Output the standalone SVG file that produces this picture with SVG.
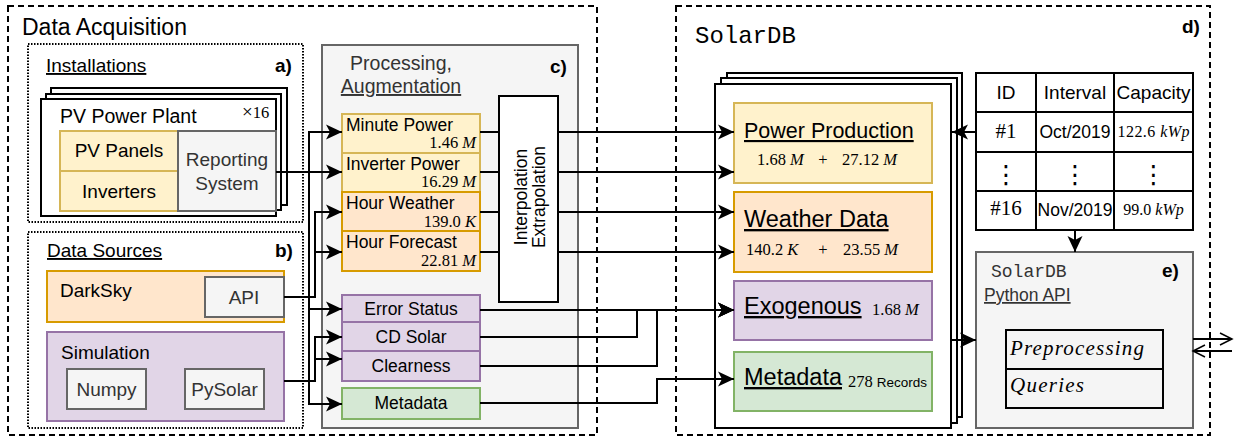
<svg xmlns="http://www.w3.org/2000/svg" width="1241" height="439" viewBox="0 0 1241 439">
<defs>
  <style>
    .sans{font-family:"Liberation Sans",Arial,sans-serif}
    .serif{font-family:"Liberation Serif","Times New Roman",serif}
    .mono{font-family:"Liberation Mono","Courier New",monospace}
    .dash{fill:none;stroke:#000;stroke-width:2;stroke-dasharray:6 4}
    .dot{fill:none;stroke:#000;stroke-width:2;stroke-dasharray:1.5 1.5}
    .yel{fill:#fff2cc;stroke:#d6b656;stroke-width:2}
    .org{fill:#ffe6cc;stroke:#d79b00;stroke-width:2}
    .pur{fill:#e1d5e7;stroke:#9673a6;stroke-width:2}
    .grn{fill:#d5e8d4;stroke:#82b366;stroke-width:2}
    .gry{fill:#f5f5f5;stroke:#666;stroke-width:2}
    .blk{fill:#fff;stroke:#000;stroke-width:2}
    .wire{fill:none;stroke:#000;stroke-width:2}
    .arrow{marker-end:url(#arr)}
    .u{text-decoration:underline}
    .dim{fill:#333}
    .b{font-weight:bold}
    .i{font-style:italic}
    .vdots{font-family:"DejaVu Sans",sans-serif;font-size:25px}
  </style>
  <marker id="arr" markerUnits="userSpaceOnUse" markerWidth="17" markerHeight="15" refX="16" refY="7.5" orient="auto" overflow="visible">
    <path d="M0,0 L16,7.5 L0,15 L4,7.5 Z" fill="#000"/>
  </marker>
  <marker id="open" markerUnits="userSpaceOnUse" markerWidth="13" markerHeight="13" refX="12" refY="6" orient="auto" overflow="visible">
    <path d="M0,0 L12,6 L0,12" fill="none" stroke="#000" stroke-width="1.5"/>
  </marker>
</defs>

<rect width="1241" height="439" fill="#fff"/>

<!-- Data acquisition frame -->
<g id="data-acquisition">
  <rect class="dash" x="8" y="6" width="589" height="429"/>
  <text class="sans" x="22" y="35" font-size="23">Data Acquisition</text>
</g>

<!-- a) installations -->
<g id="installations">
  <rect class="dot" x="28" y="44" width="275" height="178"/>
  <text class="sans u" x="46" y="72" font-size="19">Installations</text>
  <text class="sans b" x="275" y="72" font-size="19">a)</text>
</g>

<g id="pv-power-plant">
  <rect class="blk" x="51" y="88" width="236" height="117"/>
  <rect class="blk" x="46" y="94" width="235" height="116"/>
  <rect class="blk" x="41" y="99" width="235" height="117"/>
  <text class="sans" x="60" y="123" font-size="19.5">PV Power Plant</text>
  <text class="serif" x="242" y="118" font-size="16.5"><tspan font-size="19">×</tspan>16</text>
  <rect class="yel" x="60" y="131" width="118" height="40"/>
  <text class="sans" x="119" y="157" font-size="19" text-anchor="middle">PV Panels</text>
  <rect class="yel" x="60" y="171" width="118" height="40"/>
  <text class="sans" x="119" y="198" font-size="19" text-anchor="middle">Inverters</text>
  <rect class="gry" x="178" y="131" width="98" height="80"/>
  <text class="sans dim" x="227" y="166" font-size="19" text-anchor="middle">Reporting</text>
  <text class="sans dim" x="227" y="190" font-size="19" text-anchor="middle">System</text>
</g>

<!-- b) data sources -->
<g id="data-sources">
  <rect class="dot" x="28" y="232" width="275" height="196"/>
  <text class="sans u" x="47" y="257" font-size="19">Data Sources</text>
  <text class="sans b" x="275" y="257" font-size="19">b)</text>
</g>

<g id="darksky">
  <rect class="org" x="47" y="271" width="237" height="51"/>
  <text class="sans" x="60" y="297" font-size="19">DarkSky</text>
  <rect class="gry" x="205" y="277" width="79" height="40"/>
  <text class="sans dim" x="244" y="304" font-size="19" text-anchor="middle">API</text>
</g>

<g id="simulation">
  <rect class="pur" x="47" y="332" width="237" height="89"/>
  <text class="sans" x="61" y="359" font-size="19">Simulation</text>
  <rect class="gry" x="67" y="369" width="79" height="40"/>
  <text class="sans dim" x="106.5" y="396" font-size="19" text-anchor="middle">Numpy</text>
  <rect class="gry" x="185" y="369" width="79" height="40"/>
  <text class="sans dim" x="224.5" y="396" font-size="19" text-anchor="middle">PySolar</text>
</g>

<!-- c) processing -->
<g id="processing">
  <rect class="gry" x="322" y="45" width="256" height="383"/>
  <text class="sans dim" x="401" y="70" font-size="19.5" text-anchor="middle">Processing,</text>
  <text class="sans dim u" x="401" y="93" font-size="19.5" text-anchor="middle">Augmentation</text>
  <text class="sans b" x="550" y="73" font-size="19">c)</text>
</g>

<g id="minute-power">
  <rect class="yel" x="342" y="114" width="138" height="39"/>
  <text class="sans" x="346" y="131" font-size="17.5">Minute Power</text>
  <text class="serif" x="476" y="148" font-size="16.5" text-anchor="end">1.46 <tspan class="i">M</tspan></text>
</g>
<g id="inverter-power">
  <rect class="yel" x="342" y="153" width="138" height="39"/>
  <text class="sans" x="346" y="170" font-size="17.5">Inverter Power</text>
  <text class="serif" x="476" y="187" font-size="16.5" text-anchor="end">16.29 <tspan class="i">M</tspan></text>
</g>
<g id="hour-weather">
  <rect class="org" x="342" y="192" width="138" height="39"/>
  <text class="sans" x="346" y="209" font-size="17.5">Hour Weather</text>
  <text class="serif" x="476" y="227" font-size="16.5" text-anchor="end">139.0 <tspan class="i">K</tspan></text>
</g>
<g id="hour-forecast">
  <rect class="org" x="342" y="231" width="138" height="40"/>
  <text class="sans" x="346" y="248" font-size="17.5">Hour Forecast</text>
  <text class="serif" x="476" y="266" font-size="16.5" text-anchor="end">22.81 <tspan class="i">M</tspan></text>
</g>

<g id="interpolation">
  <rect class="blk" x="499" y="96" width="59" height="206"/>
  <g transform="translate(527,197) rotate(-90)">
    <text class="sans" x="0" y="0" font-size="17.5" text-anchor="middle">Interpolation</text>
    <text class="sans" x="0" y="18" font-size="17.5" text-anchor="middle">Extrapolation</text>
  </g>
</g>

<g id="error-status">
  <rect class="pur" x="342" y="295" width="138" height="27"/>
  <text class="sans" x="411" y="315" font-size="17.5" text-anchor="middle">Error Status</text>
</g>
<g id="cd-solar">
  <rect class="pur" x="342" y="322" width="138" height="29"/>
  <text class="sans" x="411" y="343" font-size="17.5" text-anchor="middle">CD Solar</text>
</g>
<g id="clearness">
  <rect class="pur" x="342" y="351" width="138" height="30"/>
  <text class="sans" x="411" y="372" font-size="17.5" text-anchor="middle">Clearness</text>
</g>
<g id="metadata-source">
  <rect class="grn" x="342" y="388" width="138" height="31"/>
  <text class="sans" x="411" y="409" font-size="17.5" text-anchor="middle">Metadata</text>
</g>

<!-- d) SolarDB -->
<g id="solardb">
  <rect class="dash" x="676" y="6" width="534" height="429"/>
  <text class="mono" x="695" y="43" font-size="24">SolarDB</text>
  <text class="sans b" x="1182" y="33" font-size="19">d)</text>
</g>

<g id="datasets">
  <rect class="blk" x="727" y="73" width="235" height="344"/>
  <rect class="blk" x="721" y="78" width="236" height="345"/>
  <rect class="blk" x="715" y="84" width="236" height="344"/>
</g>

<g id="power-production">
  <rect class="yel" x="734" y="103" width="198" height="80"/>
  <text class="sans u" x="744" y="138" font-size="21.5">Power Production</text>
  <text class="serif" x="757" y="165" font-size="16.5">1.68 <tspan class="i">M</tspan></text>
  <text class="serif" x="823" y="165" font-size="16.5" text-anchor="middle">+</text>
  <text class="serif" x="842" y="165" font-size="16.5">27.12 <tspan class="i">M</tspan></text>
</g>
<g id="weather-data">
  <rect class="org" x="734" y="192" width="198" height="80"/>
  <text class="sans u" x="744" y="227" font-size="23.5">Weather Data</text>
  <text class="serif" x="746" y="255" font-size="16.5">140.2 <tspan class="i">K</tspan></text>
  <text class="serif" x="823" y="255" font-size="16.5" text-anchor="middle">+</text>
  <text class="serif" x="843" y="255" font-size="16.5">23.55 <tspan class="i">M</tspan></text>
</g>
<g id="exogenous">
  <rect class="pur" x="734" y="281" width="198" height="59"/>
  <text class="sans u" x="744" y="314" font-size="23.5">Exogenous</text>
  <text class="serif" x="872" y="315" font-size="16.5">1.68 <tspan class="i">M</tspan></text>
</g>
<g id="metadata">
  <rect class="grn" x="734" y="352" width="198" height="59"/>
  <text class="sans u" x="744" y="385" font-size="23.5">Metadata</text>
  <text x="848" y="387"><tspan class="serif" font-size="16.5">278</tspan><tspan class="sans" font-size="13.5" dx="4">Records</tspan></text>
</g>

<g id="installations-table">
  <rect class="blk" x="976" y="73" width="217" height="157"/>
  <path class="wire" d="M1036,73 V230 M1114,73 V230 M976,112 H1193 M976,152 H1193 M976,191 H1193"/>
  <text class="sans" x="1006" y="99" font-size="19" text-anchor="middle">ID</text>
  <text class="sans" x="1075" y="99" font-size="19" text-anchor="middle">Interval</text>
  <text class="sans" x="1153.5" y="99" font-size="19" text-anchor="middle">Capacity</text>
  <text class="serif" x="1006" y="138" font-size="21" text-anchor="middle">#1</text>
  <text class="sans" x="1075" y="138" font-size="17.5" text-anchor="middle">Oct/2019</text>
  <text class="serif" x="1153.5" y="137" font-size="16" text-anchor="middle" textLength="72" lengthAdjust="spacing">122.6 <tspan class="i">kWp</tspan></text>
  <text class="vdots" x="1006" y="183" text-anchor="middle">⋮</text>
  <text class="vdots" x="1075" y="183" text-anchor="middle">⋮</text>
  <text class="vdots" x="1153.5" y="183" text-anchor="middle">⋮</text>
  <text class="serif" x="1006" y="215" font-size="21" text-anchor="middle">#16</text>
  <text class="sans" x="1075" y="216" font-size="17.5" text-anchor="middle">Nov/2019</text>
  <text class="serif" x="1153.5" y="215" font-size="16" text-anchor="middle">99.0 <tspan class="i">kWp</tspan></text>
</g>

<!-- e) python API -->
<g id="python-api">
  <rect class="gry" x="976" y="252" width="217" height="176"/>
  <text class="mono dim" x="991" y="277" font-size="18">SolarDB</text>
  <text class="sans dim u" x="984" y="301" font-size="17.5">Python API</text>
  <text class="sans b" x="1162" y="277" font-size="19">e)</text>
  <rect class="blk" x="1006" y="330" width="157" height="78" style="fill:#f5f5f5"/>
  <path class="wire" d="M1006,369 H1163"/>
  <text class="serif i" x="1010" y="355" font-size="21" textLength="134" lengthAdjust="spacing">Preprocessing</text>
  <text class="serif i" x="1010" y="392" font-size="21" textLength="74" lengthAdjust="spacing">Queries</text>
</g>

<!-- connectors -->
<g id="connectors" class="wire">
  <path class="arrow" d="M276,172 H309 V132 H342"/>
  <path class="arrow" d="M276,172 H342"/>
  <path class="arrow" d="M276,172 H309 V309 H342"/>
  <path class="arrow" d="M276,172 H309 V404 H342"/>
  <path class="arrow" d="M284,297 H315 V212 H342"/>
  <path class="arrow" d="M284,297 H315 V252 H342"/>
  <path class="arrow" d="M284,381 H315 V337 H342"/>
  <path class="arrow" d="M284,381 H315 V359 H342"/>

  <path d="M480,132 H499 M480,172 H499 M480,212 H499 M480,252 H499"/>
  <path class="arrow" d="M558,132 H734"/>
  <path class="arrow" d="M558,172 H734"/>
  <path class="arrow" d="M558,212 H734"/>
  <path class="arrow" d="M558,252 H734"/>

  <path class="arrow" d="M480,310 H734"/>
  <path class="arrow" d="M480,337 H637 V310 H734"/>
  <path class="arrow" d="M480,366 H657 V310 H734"/>
  <path class="arrow" d="M480,403 H657 V379 H734"/>

  <path class="arrow" d="M976,132 H952"/>
  <path class="arrow" d="M1075,230 V252"/>
  <path class="arrow" d="M951,340 H976"/>

  <path d="M1193,339 H1232" marker-end="url(#open)"/>
  <path d="M1232,351 H1193" marker-end="url(#open)"/>
</g>
</svg>
